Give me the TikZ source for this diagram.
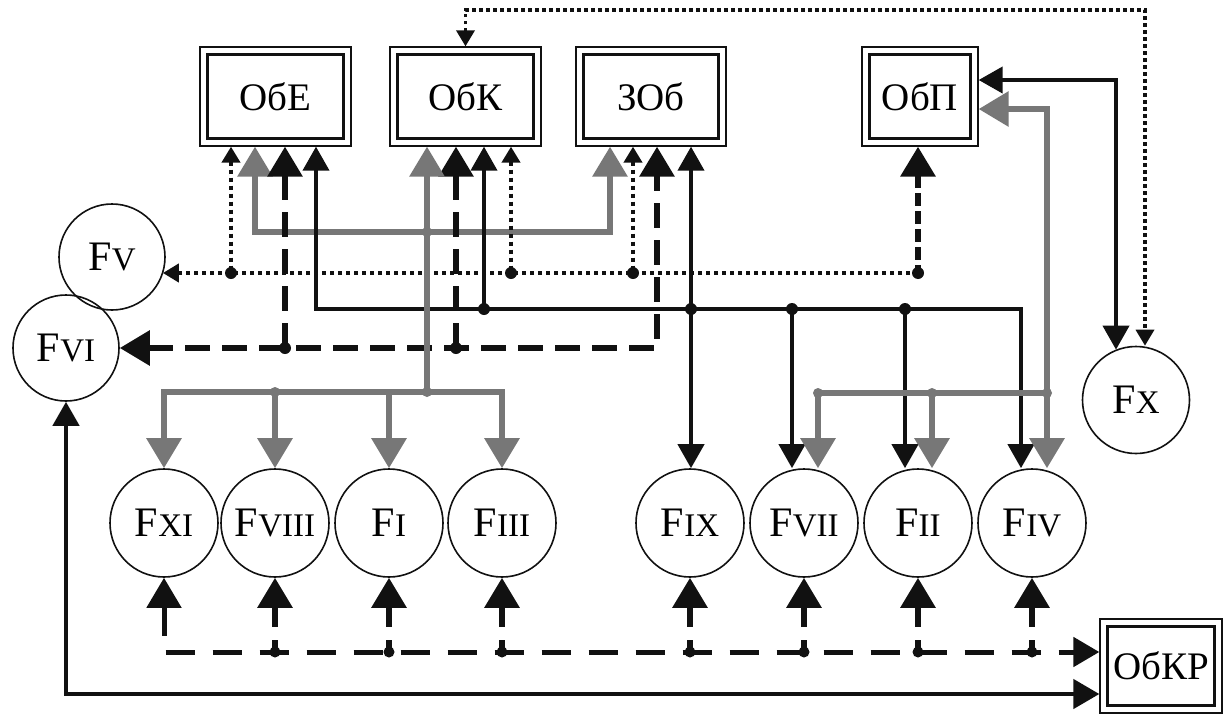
\documentclass[tikz,border=0pt]{standalone}
\usepackage{fontspec}
\setmainfont{Liberation Serif}
\usetikzlibrary{arrows.meta,calc}
\definecolor{gry}{HTML}{777777}
\definecolor{blk}{HTML}{111111}
\newcommand\dblbox[5]{%
  \node[dbox, minimum width=#3, minimum height=#4] (#1) at (#2) {#5};
  \draw[blk, line width=3.6pt] ([shift={(8pt,-8pt)}]#1.north west) rectangle ([shift={(-8pt,8pt)}]#1.south east);}
\newcommand\FF[1]{F{\fontsize{33}{35}\selectfont #1}}
\tikzset{
  dbox/.style={draw=blk, line width=1.3pt, inner sep=0pt, font=\fontsize{39}{41}\selectfont},
  fc/.style={circle, draw=blk, line width=1.6pt, minimum size=108pt, inner sep=0pt, font=\fontsize{42}{44}\selectfont},
  big/.tip={Triangle[width=34pt,length=30pt]},
  med/.tip={Triangle[width=26pt,length=24pt]},
  sml/.tip={Triangle[width=18pt,length=16pt]},
  krt/.tip={Triangle[width=29pt,length=26pt]},
  gl/.style={draw=gry, line width=6pt},
  sl/.style={draw=blk, line width=4pt},
  dl/.style={draw=blk, line width=6pt, dash pattern=on 25pt off 12pt},
  pl/.style={draw=blk, line width=4pt, dash pattern=on 4pt off 4pt},
  ql/.style={draw=blk, line width=6.5pt, dash pattern=on 13pt off 5pt},
  bl/.style={draw=blk, line width=5pt, dash pattern=on 29pt off 18pt},
  bv/.style={draw=blk, line width=6pt, dash pattern=on 21pt off 13pt on 40pt off 0pt},
}
\begin{document}
\begin{tikzpicture}[x=1pt,y=-1pt]
\fill[white] (0,0) rectangle (1224,715);
\useasboundingbox (0,0) rectangle (1224,715);

% boxes
\dblbox{obe}{275.5,96.5}{151pt}{99pt}{ОбЕ}
\dblbox{obk}{465.5,96.5}{151pt}{99pt}{ОбК}
\dblbox{zob}{651,96.5}{150pt}{99pt}{ЗОб}
\dblbox{obp}{920,96.5}{116pt}{99pt}{ОбП}
\dblbox{obkr}{1161,666}{122pt}{94pt}{ОбКР}

% circles
\node[fc, minimum size=106pt] (fv) at (112,257) {\FF{V}};
\node[fc, minimum size=106pt] (fvi) at (66,348) {\FF{VI}};
\node[fc, minimum size=107pt] (fx) at (1136,400) {\FF{X}};
\node[fc] (fxi) at (164,523) {\FF{XI}};
\node[fc] (fviii) at (275,523) {\FF{VIII}};
\node[fc] (fi) at (389,523) {\FF{I}};
\node[fc] (fiii) at (502,523) {\FF{III}};
\node[fc] (fix) at (690,523) {\FF{IX}};
\node[fc] (fvii) at (804,523) {\FF{VII}};
\node[fc] (fii) at (918,523) {\FF{II}};
\node[fc] (fiv) at (1032,523) {\FF{IV}};

% coordinates
\coordinate (gA) at (255,232);
\coordinate (gB) at (610,232);
\coordinate (gC) at (427,232);
\coordinate (gD) at (427,392);
\coordinate (gR1) at (1047,109);
\coordinate (gR2) at (1047,393);
\coordinate (gv7) at (818,393);
\coordinate (gv2) at (932,393);
\coordinate (s1) at (316,309);
\coordinate (s2) at (1021,309);
\coordinate (s3) at (484,309);
\coordinate (s4) at (691,309);
\coordinate (s5) at (792,309);
\coordinate (s6) at (905,309);
\coordinate (sx) at (1116,80);
\coordinate (d1) at (657,348);
\coordinate (d2) at (285,348);
\coordinate (d3) at (456,348);
\coordinate (p1) at (231,273);
\coordinate (p2) at (511,273);
\coordinate (p3) at (633,273);
\coordinate (p4) at (918,273);
\coordinate (t1) at (1145,10);
\coordinate (b0) at (164,652);
\coordinate (b1) at (66,694);

% gray upper bus
\draw[gl,{big}-{big}] (obe.south -| gA) -- (gA) -- (gB) -- (zob.south -| gB);

% dotted bus
\draw[pl,-{sml}] (p4) -- (fv.-19 |- p1);
\draw[pl,{sml}-] (obe.south -| p1) -- (p1);
\draw[pl,{sml}-] (obk.south -| p2) -- (p2);
\draw[pl,{sml}-] (zob.south -| p3) -- (p3);
\draw[ql,{big}-] (obp.south -| p4) -- (p4);

% solid bus
\draw[sl,{med}-{med}] (obe.south -| s1) -- (s1) -- (s2) -- (s2 |- fiv.north);
\draw[sl,{med}-] (obk.south -| s3) -- (s3);
\draw[sl,{med}-{med}] (zob.south -| s4) -- (s4 |- fix.north);
\draw[sl,-{med}] (s5) -- (s5 |- fvii.north);
\draw[sl,-{med}] (s6) -- (s6 |- fii.north);
\draw[sl,{med}-{med}] (obp.east |- sx) -- (sx) -- (sx |- fx.112);

% thick dashed bus
\draw[dl,{big}-{big}] (fvi.east) -- (d1) -- (zob.south -| d1);
\draw[dl,{big}-] (obe.south -| d2) -- (d2);
\draw[dl,{big}-] (obk.south -| d3) -- (d3);

% top dotted
\draw[pl,line width=3.5pt,dash pattern=on 3.5pt off 3.5pt,{sml}-{sml}] (obk.north) -- (obk.north |- t1) -- (t1) -- (t1 |- fx.north);

% gray lower buses
\draw[gl,{big}-] (obk.south -| gC) -- (gD);
\draw[gl,{big}-{big}] (fxi.north) |- (gD) -| (fiii.north);
\draw[gl,-{big}] (fviii.north |- gD) -- (fviii.north);
\draw[gl,-{big}] (fi.north |- gD) -- (fi.north);
\draw[gl,{big}-{big}] (obp.east |- gR1) -- (gR1) -- (gR1 |- fiv.north);
\draw[gl,-{big}] (gR2) -- (gv7) -- (gv7 |- fvii.north);
\draw[gl,-{big}] (gv2) -- (gv2 |- fii.north);

% bottom dashed bus
\draw[bl,{big}-{krt}] (fxi.south) -- (b0) -- (b0 -| obkr.west);
\foreach \n in {fviii,fi,fiii,fix,fvii,fii,fiv}{
  \draw[bv,{big}-] (\n.south) -- (\n.south |- b0);
  \fill[blk] (\n.south |- b0) circle[radius=5.5pt];
}

% bottom solid
\draw[sl,line width=4.5pt,{med}-{krt}] (fvi.south) -- (fvi.south |- b1) -- (b1 -| obkr.west);

% dots
\foreach \c in {s3,s4,s5,s6,d2,d3,p1,p2,p3,p4}{\fill[blk] (\c) circle[radius=6pt];}
\foreach \c in {gC,gD,gR2,gv2,gv7}{\fill[gry] (\c) circle[radius=5pt];}
\fill[gry] (fviii.north |- gD) circle[radius=5pt];
\end{tikzpicture}
\end{document}
